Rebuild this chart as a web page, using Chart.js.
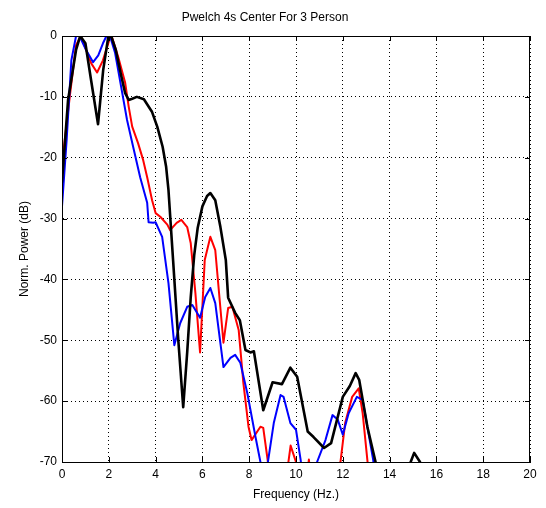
<!DOCTYPE html>
<html>
<head>
<meta charset="utf-8">
<script src="https://cdn.jsdelivr.net/npm/chart.js@4.4.0/dist/chart.umd.min.js"></script>
<style>
  html, body { margin: 0; padding: 0; background: #fff; }
  #wrap { width: 546px; height: 508px; }
</style>
</head>
<body>
<div id="wrap"><canvas id="psd" width="546" height="508"></canvas></div>
<script>
// (frequency in Hz, power in dB)
const blackFreq = [0, 0.26, 0.6, 0.78, 1.0, 1.24, 1.54, 1.76, 1.97, 2.1, 2.3, 2.5, 2.7, 2.85, 3.0, 3.2, 3.5, 3.85, 4.07, 4.3, 4.45, 4.55, 4.75, 4.97, 5.18, 5.35, 5.5, 5.65, 5.8, 6.0, 6.2, 6.34, 6.55, 6.77, 7.0, 7.1, 7.4, 7.6, 7.84, 8.05, 8.2, 8.6, 9.0, 9.4, 9.76, 10.05, 10.5, 10.75, 11.2, 11.5, 12.0, 12.3, 12.55, 12.7, 13.05, 13.4, 13.7, 14.7, 14.9, 15.05, 15.3, 15.5];
const blackPow  = [-24, -10.5, -2.3, 0, -1.2, -7.2, -14.5, -5.6, -0.3, 0, -2.3, -6, -9.4, -10.5, -10.3, -10, -10.4, -12.5, -14.9, -18.2, -21.5, -25.3, -37, -50, -61, -52, -43, -36, -31.5, -28, -26.3, -25.8, -27, -31.4, -36.8, -43, -45.5, -46.7, -51.6, -52, -51.8, -61.5, -56.9, -57.2, -54.5, -56, -65, -65.9, -67.7, -66.9, -59.3, -57.5, -55.4, -56.5, -64.2, -70, -75, -75, -70, -68.5, -70, -75];

const redFreq = [0, 0.35, 0.6, 0.8, 1.03, 1.25, 1.5, 1.75, 2.05, 2.12, 2.4, 2.7, 2.85, 3.0, 3.25, 3.47, 3.64, 3.85, 4.0, 4.2, 4.5, 4.62, 4.9, 5.1, 5.35, 5.5, 5.7, 5.9, 6.1, 6.34, 6.55, 6.9, 7.1, 7.28, 7.55, 7.75, 7.97, 8.1, 8.48, 8.6, 8.8, 9.0, 9.5, 9.77, 10.0, 10.2, 10.4, 10.55, 10.7, 11.7, 11.9, 12.1, 12.4, 12.68, 12.85, 13.05, 13.2];
const redPow  = [-21, -9.4, -1.5, 0, -2.3, -4.5, -6, -4, -0.3, 0, -3.4, -7.7, -11.6, -14.9, -17.6, -20.4, -23.2, -27, -29.1, -29.7, -31, -31.9, -30.7, -30.2, -31.4, -34, -42.2, -52, -36.8, -33, -35.2, -50.4, -44.7, -44.5, -48.3, -57, -64.2, -66.4, -64.2, -64.4, -70, -75, -75, -67.3, -70, -75, -75, -69.6, -75, -75, -70, -63.6, -59.3, -57.9, -62, -69.7, -75];

const blueFreq = [0, 0.2, 0.4, 0.6, 0.75, 1.03, 1.33, 1.55, 1.75, 1.9, 2.05, 2.27, 2.53, 2.78, 3.04, 3.34, 3.64, 3.7, 3.9, 4.0, 4.28, 4.55, 4.8, 5.05, 5.35, 5.57, 5.9, 6.12, 6.34, 6.55, 6.9, 7.2, 7.4, 7.62, 7.92, 8.27, 8.48, 8.6, 8.75, 8.8, 9.05, 9.34, 9.47, 9.76, 10.0, 10.2, 10.35, 10.75, 10.9, 11.26, 11.56, 11.78, 12.0, 12.25, 12.6, 12.85, 13.05, 13.3, 13.45];
const bluePow  = [-28, -17, -4, 0, 0, -2.3, -4.3, -3.2, -1.2, 0, 0, -2.8, -8.4, -13.8, -18.2, -23.2, -27.4, -30.6, -30.7, -30.6, -33, -40.6, -50.8, -47.2, -44.5, -44.2, -46.3, -42.9, -41.4, -43.9, -54.4, -52.9, -52.4, -53.7, -58.7, -65.9, -70, -75, -75, -70, -63.6, -59, -59.3, -63.6, -64.7, -69.7, -75, -75, -70, -66.4, -62.3, -63, -65.5, -62, -59.3, -59.8, -64.2, -69.7, -75];

const xTicksMax = 20;
const yTicksMin = -70;

function toPoints(fs, ps) {
    return fs.map((f, i) => ({x: f, y: ps[i]}));
}

// MATLAB style box with inward tick marks
const boxPlugin = {
    id: 'box',
    afterDraw(chart) {
        const {ctx, chartArea: a, scales} = chart;
        ctx.save();
        ctx.strokeStyle = '#000';
        ctx.lineWidth = 1;
        ctx.strokeRect(a.left + 0.5, a.top + 0.5, a.right - a.left - 1, a.bottom - a.top);
        ctx.beginPath();
        scales.x.ticks.forEach(t => {
            const px = Math.round(scales.x.getPixelForValue(t.value)) + 0.5;
            ctx.moveTo(px, a.bottom); ctx.lineTo(px, a.bottom - 5);
            ctx.moveTo(px, a.top); ctx.lineTo(px, a.top + 5);
        });
        scales.y.ticks.forEach(t => {
            const py = Math.round(scales.y.getPixelForValue(t.value)) + 0.5;
            ctx.moveTo(a.left, py); ctx.lineTo(a.left + 5, py);
            ctx.moveTo(a.right, py); ctx.lineTo(a.right - 5, py);
        });
        ctx.stroke();
        ctx.restore();
    }
};

const font = {family: '"Liberation Sans", Arial, sans-serif', size: 12};

new Chart(document.getElementById('psd'), {
    type: 'line',
    data: {
        datasets: [
            {label: 'Person 1', data: toPoints(blackFreq, blackPow), borderColor: '#000000', borderWidth: 2.6},
            {label: 'Person 2', data: toPoints(blueFreq, bluePow), borderColor: '#0000ff', borderWidth: 2},
            {label: 'Person 3', data: toPoints(redFreq, redPow), borderColor: '#ff0000', borderWidth: 2}
        ]
    },
    options: {
        responsive: false,
        animation: false,
        events: [],
        elements: {
            point: {radius: 0},
            line: {tension: 0, borderJoinStyle: 'round', borderCapStyle: 'round'}
        },
        layout: {padding: {left: 0, right: 16, top: 0, bottom: 0}},
        plugins: {
            legend: {display: false},
            tooltip: {enabled: false},
            title: {
                display: true,
                text: 'Pwelch 4s Center For 3 Person',
                color: '#000',
                font: {...font, weight: 'normal'},
                padding: {top: 10, bottom: 11.6}
            }
        },
        scales: {
            x: {
                type: 'linear',
                min: 0,
                max: xTicksMax,
                ticks: {stepSize: 2, color: '#000', font: font, padding: 5, maxRotation: 0},
                grid: {color: '#000', lineWidth: 1, drawTicks: false},
                border: {display: true, color: '#000', dash: [1, 3]},
                title: {display: true, text: 'Frequency (Hz.)', color: '#000', font: font, padding: {top: 0, bottom: 6}},
                afterFit(scale) { scale.height = 46; }
            },
            y: {
                min: yTicksMin,
                max: 0,
                ticks: {stepSize: 10, color: '#000', font: font, padding: 5, callback: v => String(v)},
                grid: {color: '#000', lineWidth: 1, drawTicks: false},
                border: {display: true, color: '#000', dash: [1, 3]},
                title: {display: true, text: 'Norm. Power (dB)', color: '#000', font: font, padding: {top: 17, bottom: 0}},
                afterFit(scale) { scale.width = 62; }
            }
        }
    },
    plugins: [boxPlugin]
});
</script>
</body>
</html>
